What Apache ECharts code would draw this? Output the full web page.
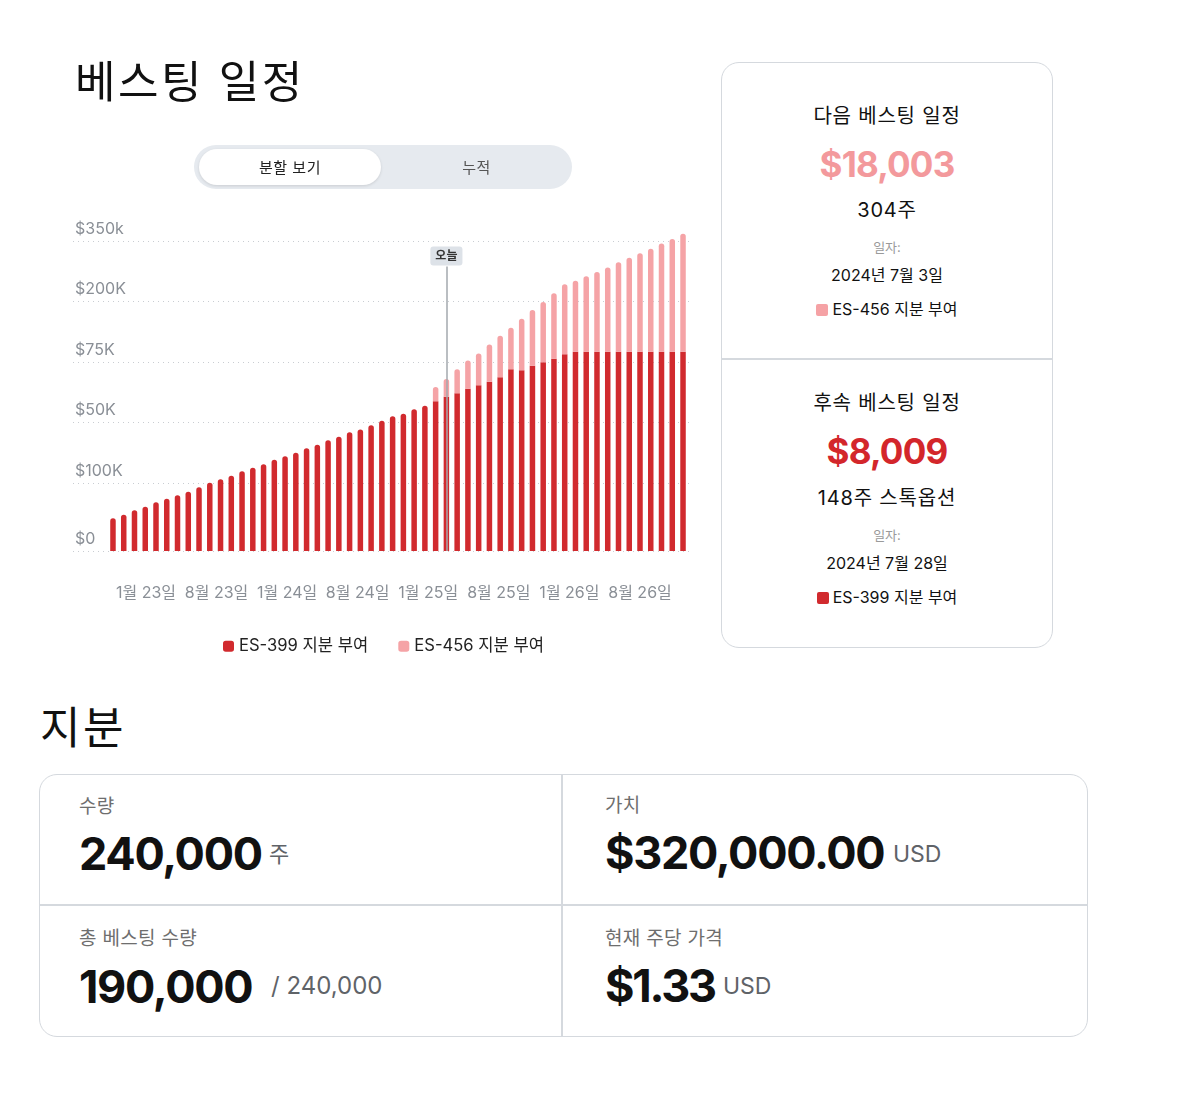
<!DOCTYPE html>
<html lang="ko">
<head>
<meta charset="utf-8">
<title>베스팅 일정</title>
<script src="https://cdn.jsdelivr.net/npm/echarts@6/dist/echarts.min.js"></script>
<style>
  html, body { margin: 0; padding: 0; background: #fff; }
  body {
    width: 1200px; height: 1100px; position: relative; overflow: hidden;
    font-family: Inter, "Noto Sans CJK KR", sans-serif; color: #111;
  }
  #chart { position: absolute; left: 0; top: 0; width: 720px; height: 680px; z-index: 0; }
  .t { position: absolute; white-space: nowrap; line-height: 1; z-index: 1; }
  .card { position: absolute; border: 1.5px solid #d5d9de; border-radius: 18px; box-sizing: border-box; z-index: 1; }
  .hr { position: absolute; background: #d5d9de; z-index: 1; }
  .center { text-align: center; }
  .head { font-size: 44px; letter-spacing: 2.5px; }
  .sub { font-size: 20px; letter-spacing: 0.8px; }
  .big { font-weight: 700; font-size: 45px; letter-spacing: -1.3px; color: #111; }
  .muted { color: #6e6e6e; font-size: 19px; letter-spacing: 0.3px; }
  .unit { color: #5f6368; }
  .swatch { display: inline-block; width: 12px; height: 12px; border-radius: 2px; margin-right: 4px; vertical-align: -1px; }
</style>
</head>
<body>
<div id="chart"></div>

<!-- 헤더 / 토글 -->
<div class="t head" style="left:75px; top:60px;">베스팅 일정</div>
<div style="position:absolute; left:194px; top:145px; width:378px; height:44px; border-radius:22px; background:#e6eaef; z-index:1;"></div>
<div style="position:absolute; left:199px; top:149px; width:182px; height:36px; border-radius:18px; background:#fff; box-shadow:0 1px 3px rgba(0,0,0,0.12); z-index:1;"></div>
<div class="t center" style="left:199px; width:182px; top:160px; font-size:15px; color:#222; letter-spacing:0.5px;">분할 보기</div>
<div class="t center" style="left:381px; width:191px; top:160px; font-size:15px; color:#555; letter-spacing:0.5px;">누적</div>

<!-- 오른쪽 카드 -->
<div class="card" style="left:721px; top:62px; width:332px; height:586px;"></div>
<div class="hr" style="left:722px; top:358px; width:330px; height:1.5px;"></div>

<div class="t center sub" style="left:721px; width:332px; top:106px;">다음 베스팅 일정</div>
<div class="t center" style="left:721px; width:332px; top:147px; font-size:35px; font-weight:700; letter-spacing:-0.8px; color:#f3999c;">$18,003</div>
<div class="t center sub" style="left:721px; width:332px; top:200px;">304주</div>
<div class="t center" style="left:721px; width:332px; top:241px; font-size:13px; color:#9a9a9a;">일자:</div>
<div class="t center" style="left:721px; width:332px; top:267px; font-size:16px;">2024년 7월 3일</div>
<div class="t center" style="left:721px; width:332px; top:301px; font-size:16px;"><span class="swatch" style="background:#f5a2a5;"></span>ES-456 지분 부여</div>

<div class="t center sub" style="left:721px; width:332px; top:393px;">후속 베스팅 일정</div>
<div class="t center" style="left:721px; width:332px; top:434px; font-size:35px; font-weight:700; letter-spacing:-0.8px; color:#d3262b;">$8,009</div>
<div class="t center sub" style="left:721px; width:332px; top:488px;">148주 스톡옵션</div>
<div class="t center" style="left:721px; width:332px; top:529px; font-size:13px; color:#9a9a9a;">일자:</div>
<div class="t center" style="left:721px; width:332px; top:555px; font-size:16px;">2024년 7월 28일</div>
<div class="t center" style="left:721px; width:332px; top:589px; font-size:16px;"><span class="swatch" style="background:#d12a2e;"></span>ES-399 지분 부여</div>

<!-- 지분 -->
<div class="t head" style="left:40px; top:706px;">지분</div>
<div class="card" style="left:39px; top:774px; width:1049px; height:263px;"></div>
<div class="hr" style="left:561px; top:775px; width:1.5px; height:261px;"></div>
<div class="hr" style="left:40px; top:904px; width:1047px; height:1.5px;"></div>

<div class="t muted" style="left:79px; top:797px;">수량</div>
<div class="t big" style="left:79px; top:831px;">240,000</div>
<div class="t unit" style="left:269px; top:843px; font-size:22px;">주</div>

<div class="t muted" style="left:605px; top:796px;">가치</div>
<div class="t big" style="left:605px; top:830px;">$320,000.00</div>
<div class="t unit" style="left:893px; top:843px; font-size:23px;">USD</div>

<div class="t muted" style="left:79px; top:929px;">총 베스팅 수량</div>
<div class="t big" style="left:79px; top:964px;">190,000</div>
<div class="t unit" style="left:271px; top:974px; font-size:24px;">/ 240,000</div>

<div class="t muted" style="left:605px; top:929px;">현재 주당 가격</div>
<div class="t big" style="left:605px; top:963px; letter-spacing:-2.2px;">$1.33</div>
<div class="t unit" style="left:723px; top:975px; font-size:23px;">USD</div>

<script>
const FONT = 'Inter, "Noto Sans CJK KR", sans-serif';

// 월별 카테고리 (막대 54개)
const months = [
  '2023-01','2023-02','2023-03','2023-04','2023-05','2023-06','2023-07','2023-08','2023-09','2023-10','2023-11','2023-12',
  '2024-01','2024-02','2024-03','2024-04','2024-05','2024-06','2024-07','2024-08','2024-09','2024-10','2024-11','2024-12',
  '2025-01','2025-02','2025-03','2025-04','2025-05','2025-06','2025-07','2025-08','2025-09','2025-10','2025-11','2025-12',
  '2026-01','2026-02','2026-03','2026-04','2026-05','2026-06','2026-07','2026-08','2026-09','2026-10','2026-11','2026-12',
  '2027-01','2027-02','2027-03','2027-04','2027-05','2027-06'
];
const todayMonth = '2025-08';

// x축 표시 라벨
const dateLabels = ['1월 23일', '8월 23일', '1월 24일', '8월 24일', '1월 25일', '8월 25일', '1월 26일', '8월 26일'];

// y축 눈금 (그림에 보이는 그대로)
const yTickValues = [0, 76, 145, 213, 282, 350];
const yTickLabels = ['$0', '$100K', '$50K', '$75K', '$200K', '$350k'];

// 값 (K 단위, 누적 스택)
const es399 = [
  37, 41, 46, 50, 55, 59, 63, 67, 72, 77,
  81, 85, 90, 94, 98, 103, 107, 111, 116, 120,
  125, 129, 134, 137, 142, 147, 152, 155, 160, 164,
  169, 174, 178, 183, 187, 191, 196, 205, 204, 209,
  213, 217, 222, 225, 225, 225, 225, 225, 225, 225,
  225, 225, 225, 225
];
const es456 = [
  0, 0, 0, 0, 0, 0, 0, 0, 0, 0,
  0, 0, 0, 0, 0, 0, 0, 0, 0, 0,
  0, 0, 0, 0, 0, 0, 0, 0, 0, 0,
  16, 20, 27, 32, 36, 42, 47, 47, 58, 63,
  68, 74, 79, 80, 85, 90, 95, 101, 106, 111,
  116, 122, 127, 133
];
const todayLineTop = 321;

const RED = '#d12a2e';
const PINK = '#f5a3a6';

const chart = echarts.init(document.getElementById('chart'));

chart.setOption({
  animation: false,
  textStyle: { fontFamily: FONT },
  grid: [
    { left: 73, top: 232, width: 620, height: 319 },
    { left: 107.6, top: 232, width: 580.8, height: 319 },
    { left: 110.7, top: 232, width: 564.6, height: 319 }
  ],
  xAxis: [
    { gridIndex: 0, type: 'category', data: [''], show: false },
    { gridIndex: 1, type: 'category', data: months, show: false },
    {
      gridIndex: 2, type: 'category', data: dateLabels,
      axisLine: { show: false }, axisTick: { show: false }, splitLine: { show: false },
      axisLabel: { interval: 0, fontSize: 16, lineHeight: 16, color: '#8a8f96', margin: 34, fontFamily: FONT }
    }
  ],
  yAxis: [
    {
      gridIndex: 0, type: 'value', min: 0, max: 360,
      axisLine: { show: false },
      axisTick: { show: false, customValues: yTickValues },
      axisLabel: {
        inside: true, margin: 2,
        customValues: yTickValues,
        formatter: (val) => yTickLabels[yTickValues.indexOf(val)],
        fontSize: 16, lineHeight: 16, color: '#8a8f96',
        verticalAlign: 'bottom', padding: [0, 0, 4, 0], fontFamily: FONT
      },
      splitLine: { show: true, lineStyle: { type: [1, 4], color: '#c9cdd2', width: 1 } }
    },
    { gridIndex: 1, type: 'value', min: 0, max: 360, show: false, splitLine: { show: false } },
    { gridIndex: 2, type: 'value', show: false, splitLine: { show: false } }
  ],
  legend: {
    left: 218, top: 633,
    icon: 'roundRect', itemWidth: 11, itemHeight: 11, itemGap: 30,
    selectedMode: false,
    textStyle: { fontSize: 16.6, color: '#222', fontFamily: FONT },
    data: ['ES-399 지분 부여', 'ES-456 지분 부여']
  },
  series: [
    {
      name: 'ES-399 지분 부여',
      type: 'bar', stack: 'vest',
      xAxisIndex: 1, yAxisIndex: 1,
      barWidth: 5.5,
      color: RED,
      data: es399.map((v, i) => ({
        value: v,
        itemStyle: { borderRadius: es456[i] > 0 ? 0 : [3, 3, 0, 0] }
      }))
    },
    {
      name: 'ES-456 지분 부여',
      type: 'bar', stack: 'vest',
      xAxisIndex: 1, yAxisIndex: 1,
      barWidth: 5.5,
      color: PINK,
      itemStyle: { borderRadius: [3, 3, 0, 0] },
      data: es456,
      markLine: {
        silent: true,
        symbol: ['none', 'none'],
        lineStyle: { color: '#a3a8ae', width: 1.5, type: 'solid' },
        label: {
          show: true, position: 'end', distance: 1,
          formatter: '오늘',
          fontSize: 12, fontWeight: 'bold', color: '#333',
          backgroundColor: '#dde2e8', borderRadius: 3, padding: [4, 5, 3, 5]
        },
        data: [[
          { coord: [todayMonth, 0] },
          { coord: [todayMonth, todayLineTop] }
        ]]
      }
    }
  ]
});
</script>
</body>
</html>
